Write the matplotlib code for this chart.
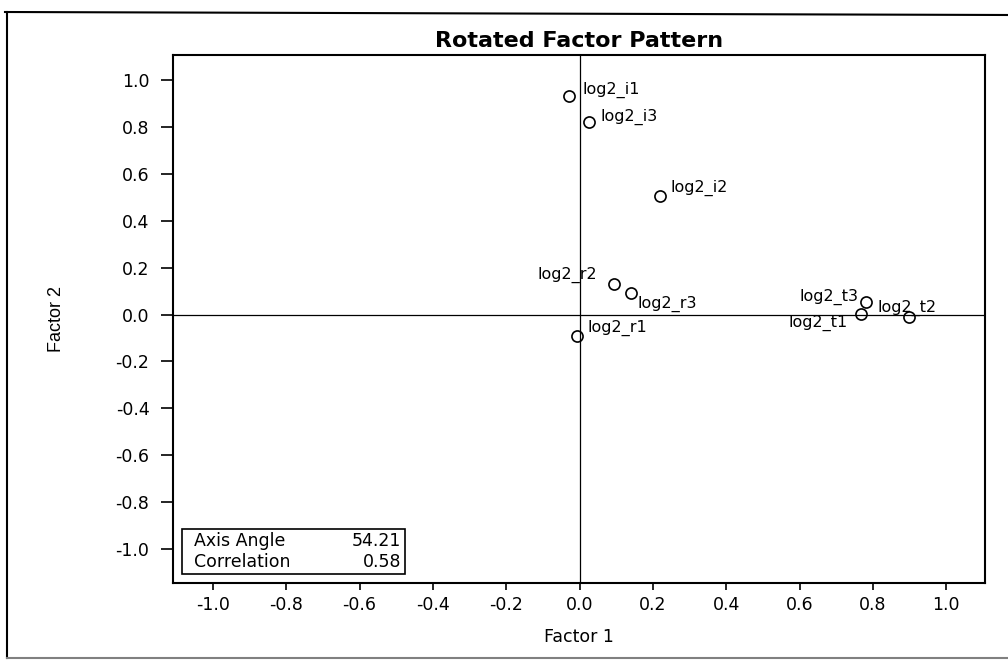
import matplotlib
matplotlib.use("Agg")
import matplotlib.pyplot as plt
from matplotlib.lines import Line2D
from matplotlib.patches import Rectangle

plt.rcParams['font.family'] = ['DejaVu Sans']

# factor loadings
names = ['log2_i1', 'log2_i3', 'log2_i2', 'log2_r2', 'log2_r3',
         'log2_r1', 'log2_t3', 'log2_t1', 'log2_t2']
factor1 = [-0.03, 0.026, 0.22, 0.094, 0.14, -0.006, 0.782, 0.768, 0.899]
factor2 = [0.932, 0.823, 0.505, 0.13, 0.092, -0.093, 0.052, 0.002, -0.012]

ticks = [-1.0, -0.8, -0.6, -0.4, -0.2, 0.0, 0.2, 0.4, 0.6, 0.8, 1.0]

stat_names = ['Axis Angle', 'Correlation']
stat_values = ['54.21', '0.58']

# where each label sits relative to its marker (pixels, ha)
label_place = {
    'log2_i1': (14, 6, 'left'),
    'log2_i3': (11, 5, 'left'),
    'log2_i2': (10, 8, 'left'),
    'log2_r2': (-17, 9, 'right'),
    'log2_r3': (7, -11, 'left'),
    'log2_r1': (10, 8, 'left'),
    'log2_t3': (-8, 5, 'right'),
    'log2_t1': (-13, -9, 'right'),
    'log2_t2': (-32, 9, 'left'),
}

fig = plt.figure(figsize=(10.08, 6.60), dpi=100)
ax = fig.add_axes([173 / 1008, 77 / 660, 812 / 1008, 528 / 660])

ax.axhline(0, color='black', lw=0.9, zorder=1)
ax.axvline(0, color='black', lw=0.9, zorder=1)

ax.plot(factor1, factor2, 'o', ms=8, mfc='none', mec='black', mew=1.2, zorder=3)

for n, x, y in zip(names, factor1, factor2):
    dx, dy, ha = label_place[n]
    ax.annotate(n, (x, y), xytext=(dx, dy), textcoords='offset pixels',
                ha=ha, va='center', fontsize=11.5)

ax.set_xlim(-1.109, 1.106)
ax.set_ylim(-1.145, 1.107)
ax.set_xticks(ticks)
ax.set_yticks(ticks)
ax.set_xticklabels([f'{t:.1f}' for t in ticks])
ax.set_yticklabels([f'{t:.1f}' for t in ticks])
ax.tick_params(axis='x', direction='out', length=5, width=1.2, pad=4, labelsize=12.5)
ax.tick_params(axis='y', direction='out', length=9, width=1.2, pad=8, labelsize=12.5)
for s in ax.spines.values():
    s.set_linewidth(1.5)

ax.set_title('Rotated Factor Pattern', fontsize=16, fontweight='bold', pad=6)
ax.set_xlabel('Factor 1', fontsize=12.5)
ax.xaxis.set_label_coords(0.5, -0.085)
ax.set_ylabel('Factor 2', fontsize=13, family=['Liberation Sans'])
ax.yaxis.set_label_coords(-0.133, 0.5)

# statistics box in the lower left corner
ax.add_patch(Rectangle((0.011, 0.017), 0.275, 0.085, transform=ax.transAxes,
                       fill=False, ec='black', lw=1.2, zorder=4))
for i, (lab, val) in enumerate(zip(stat_names, stat_values)):
    yy = 0.079 - i * 0.04
    ax.text(0.026, yy, lab, transform=ax.transAxes, fontsize=12.5, va='center', ha='left')
    ax.text(0.281, yy, val, transform=ax.transAxes, fontsize=12.5, va='center', ha='right')

# page frame from the scan
fig.add_artist(Line2D([5 / 1008, 1.0], [1 - 12 / 660, 1 - 15 / 660], color='black', lw=1.5))
fig.add_artist(Line2D([7 / 1008, 7 / 1008], [1 - 12 / 660, 2 / 660], color='black', lw=1.5))
fig.add_artist(Line2D([7 / 1008, 1.0], [2 / 660, 2 / 660], color='gray', lw=1.5))

fig.savefig('out.png', dpi=100)
